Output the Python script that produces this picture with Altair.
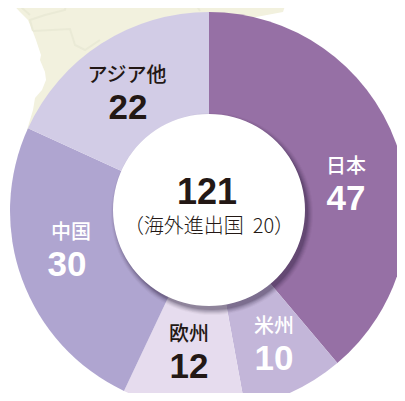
import altair as alt
import pandas as pd

# Values
regions = ["日本", "米州", "欧州", "中国", "アジア他"]
values = [47, 10, 12, 30, 22]
total_label = "121"
sub_label = "（海外進出国\u00a0\u00a020）"

# Styling, kept apart from the values
colors = ["#9670a5", "#c3b6d9", "#e6dcee", "#afa5d0", "#d2cce6"]
name_colors = ["#ffffff", "#ffffff", "#231815", "#ffffff", "#231815"]
name_xs = [346, 274, 189, 71, 127]
name_ys = [167, 327, 335, 233, 76]
value_xs = [346, 274, 189, 67, 128]
value_ys = [199, 359, 367, 265, 108]

OFF = 8
CX, CY = 209 - OFF, 211 - OFF
TAU = 6.28318

pie_df = pd.DataFrame({"region": regions, "value": values, "color": colors,
                       "order": range(len(regions))})

# Pale map behind the ring (traced page coordinates)
coast_y = [0, 12, 20, 32, 40, 55, 60, 72, 80, 90, 98, 110, 130]
coast_x = [9, 20, 28, 33, 36, 41, 40, 45, 46, 42, 35, 33, 27]
land_right = [287, 283, 240, 240, 240, 240, 240, 240, 240, 240, 240, 240, 240]
land_df = pd.DataFrame({"y": [v - OFF for v in coast_y],
                        "x": [v - OFF for v in coast_x],
                        "x2": [v - OFF for v in land_right]})

borders = {
    "a": [(33, 31), (70, 29), (75, 45), (85, 50), (100, 40)],
    "b": [(33, 31), (30, 20), (45, 15), (65, 10), (67, 0)],
    "c": [(25, 0), (22, 8), (30, 15)],
    "d": [(180, 0), (185, 5), (195, 3), (200, 11)],
}
border_rows = [{"k": k, "i": i, "x": p[0] - OFF, "y": p[1] - OFF}
               for k, pts in borders.items() for i, p in enumerate(pts)]
border_df = pd.DataFrame(border_rows)


def px(field):
    return alt.X(field, scale=None, axis=None)


def py(field):
    return alt.Y(field, scale=None, axis=None)


land = alt.Chart(land_df).mark_area(orient="horizontal", color="#f2f1de").encode(
    y=py("y:Q"), x=px("x:Q"), x2="x2:Q")
border = alt.Chart(border_df).mark_line(color="#eaead6", strokeWidth=2).encode(
    x=px("x:Q"), y=py("y:Q"), detail="k:N", order="i:Q")

pie = alt.Chart(pie_df).mark_arc(outerRadius=199, innerRadius=0).encode(
    x=alt.value(CX), y=alt.value(CY),
    theta=alt.Theta("value:Q", stack=True),
    order=alt.Order("order:Q"),
    color=alt.Color("color:N", scale=None),
)

dummy = pd.DataFrame({"a": [0]})
shadows = []
for r, o in [(101, 0.04), (100, 0.06), (99, 0.08), (98, 0.1), (97, 0.12), (96, 0.16)]:
    shadows.append(
        alt.Chart(dummy).mark_arc(innerRadius=0, outerRadius=r, theta=0, theta2=TAU,
                                  color="#2a1a3a", opacity=o)
        .encode(x=alt.value(CX + 3), y=alt.value(CY + 3))
    )

hole = alt.Chart(dummy).mark_arc(innerRadius=0, outerRadius=96, theta=0, theta2=TAU,
                                 color="#ffffff").encode(
    x=alt.value(CX), y=alt.value(CY - 1))

JP = "Noto Sans CJK JP"
NUM = "Liberation Sans"

names_df = pd.DataFrame({"t": regions, "x": [v - OFF for v in name_xs],
                         "y": [v - OFF for v in name_ys], "c": name_colors})
nums_df = pd.DataFrame({"t": [str(v) for v in values], "x": [v - OFF for v in value_xs],
                        "y": [v - OFF for v in value_ys], "c": name_colors})

names = alt.Chart(names_df).mark_text(font=JP, fontSize=20, fontWeight=500, baseline="middle").encode(
    x=px("x:Q"), y=py("y:Q"), text="t:N", color=alt.Color("c:N", scale=None))
nums = alt.Chart(nums_df).mark_text(font=NUM, fontSize=35, fontWeight="bold", baseline="middle").encode(
    x=px("x:Q"), y=py("y:Q"), text="t:N", color=alt.Color("c:N", scale=None))

centre = alt.Chart(pd.DataFrame({"t": [total_label], "x": [207 - OFF], "y": [193 - OFF]})).mark_text(
    font=NUM, fontSize=36, fontWeight="bold", baseline="middle", color="#231815").encode(
    x=px("x:Q"), y=py("y:Q"), text="t:N")
sub = alt.Chart(pd.DataFrame({"t": [sub_label], "x": [209 - OFF], "y": [227 - OFF]})).mark_text(
    font=JP, fontSize=20, fontWeight=300, baseline="middle", color="#231815").encode(
    x=px("x:Q"), y=py("y:Q"), text="t:N")

chart = alt.layer(land, border, pie, *shadows, hole, names, nums, centre, sub).resolve_scale(
    color="independent"
).properties(
    width=389, height=385, padding=0, background="#ffffff",
    autosize=alt.AutoSizeParams(type="none")
).configure_view(strokeWidth=0, stroke="transparent")

chart.save("out.html", embed_options={"renderer": "svg", "actions": False})
